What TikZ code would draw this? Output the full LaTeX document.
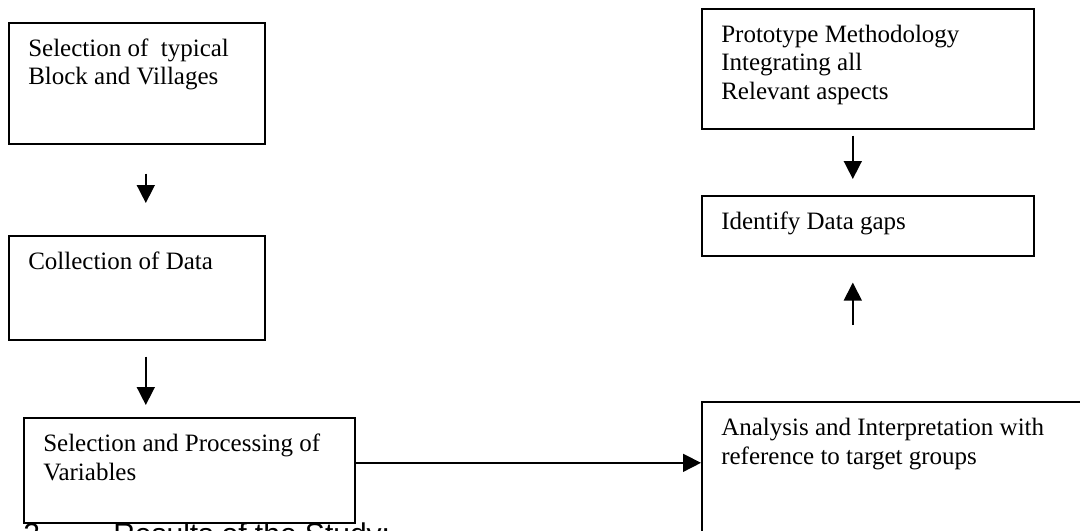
\documentclass[tikz,border=0pt]{standalone}
\usepackage{fontspec}
\usepackage{tikz}
\usetikzlibrary{positioning, arrows.meta}
\newfontfamily\bodyfont{Liberation Serif}
\newfontfamily\headfont{Liberation Sans}

\tikzset{
  stagebox/.style={draw, line width=1.2pt, anchor=north west, inner sep=0pt},
  boxtext/.style={anchor=north west, align=left, inner xsep=15pt, inner ysep=10.5pt,
    font=\bodyfont\fontsize{18.75}{21.5}\selectfont},
  arr/.style={-{Triangle[length=13.5pt,width=13.5pt]}, line width=1.2pt},
}

\begin{document}
\begin{tikzpicture}[x=0.75pt, y=-0.75pt]
    \path[use as bounding box, fill=white] (0,0) rectangle (1080,531);
    \clip (0,0) rectangle (1080,531);
    % Left column
    \node[stagebox, minimum width=192pt, minimum height=90.75pt,
      label={[boxtext]north west:\strut Selection of\ \ typical\\Block and Villages}] (select) at (8,22) {};
    \node[stagebox, minimum width=192pt, minimum height=78pt,
      label={[boxtext]north west:\strut Collection of Data}] (collect) at (8,235) {};
    \node[stagebox, minimum width=248.25pt, minimum height=78.75pt,
      label={[boxtext]north west:\strut Selection and Processing of\\Variables}] (vars) at (23,417) {};
    % Right column
    \node[stagebox, minimum width=249pt, minimum height=90pt,
      label={[boxtext]north west:\strut Prototype Methodology\\Integrating all\\Relevant aspects}] (proto) at (701,8) {};
    \node[stagebox, minimum width=249pt, minimum height=45pt,
      label={[boxtext]north west:\strut Identify Data gaps}] (gaps) at (701,195) {};
    \node[stagebox, minimum width=360pt, minimum height=135pt,
      label={[boxtext]north west:\strut Analysis and Interpretation with\\reference to target groups}] (analysis) at (701,401) {};
    % Heading below, cut by the page edge
    \node[anchor=base west, inner sep=0pt, font=\headfont\fontsize{22.5}{27}\selectfont] (results)
      at (23,544) {2\hspace{55pt}Results of the Study:};
    % Connections: down the left column
    \coordinate (c1) at ([xshift=6.75pt]select.south);
    \draw[arr, shorten <=21.75pt, shorten >=24pt] (c1) -- (c1 |- collect.north);
    \coordinate (c2) at ([xshift=6.75pt]collect.south);
    \draw[arr, shorten <=12pt, shorten >=9pt] (c2) -- (c2 |- vars.north);
    % Connections: variables to analysis
    \coordinate (c5) at ([yshift=5.6pt]vars.east);
    \draw[arr] (c5) -- (c5 -| analysis.west);
    % Connections: right column
    \coordinate (c3) at ([xshift=-11.25pt]proto.south);
    \draw[arr, shorten <=4.5pt, shorten >=12pt] (c3) -- (c3 |- gaps.north);
    \coordinate (c4) at ([xshift=-11.25pt]gaps.south);
    \draw[arr, shorten <=57pt, shorten >=19.5pt] (c4 |- analysis.north) -- (c4);
\end{tikzpicture}
\end{document}
